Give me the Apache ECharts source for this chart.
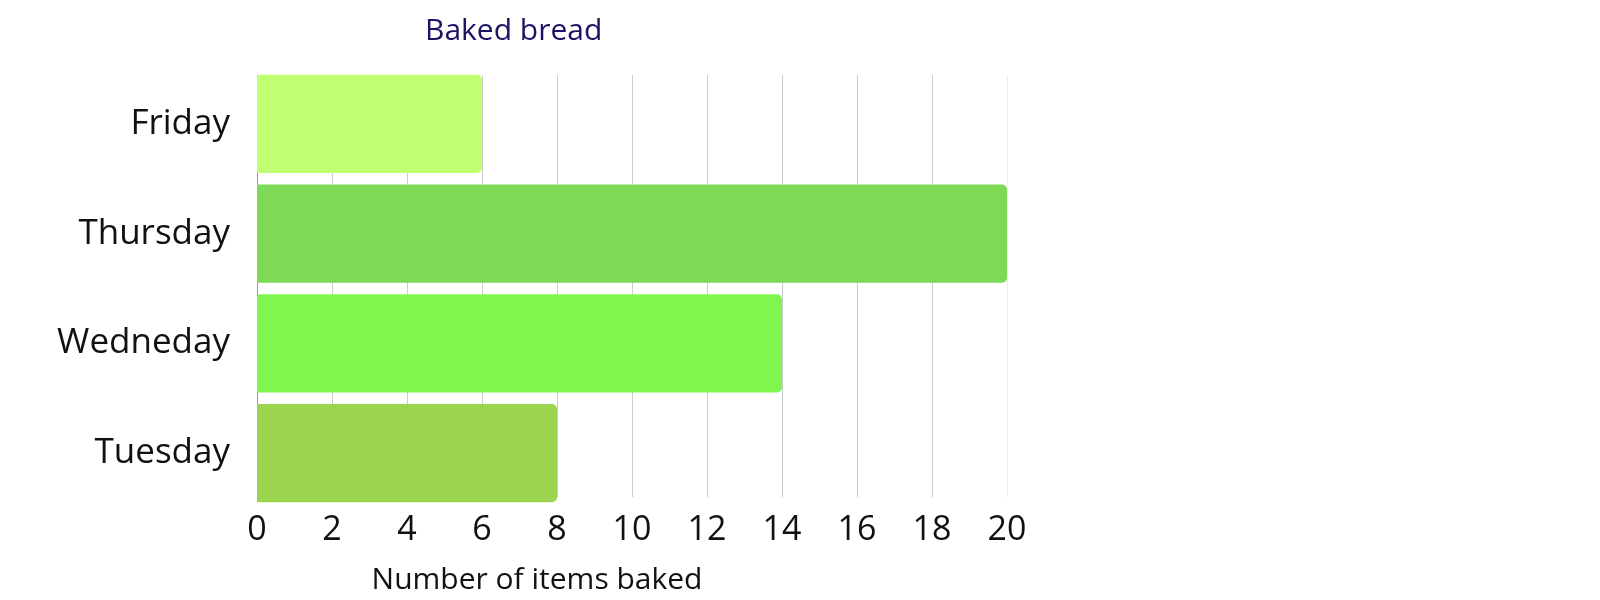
<!DOCTYPE html>
<html>
<head>
<meta charset="utf-8">
<script src="https://cdn.jsdelivr.net/npm/echarts@6/dist/echarts.min.js"></script>
<style>
  html, body { margin: 0; padding: 0; background: #fff; }
  #main { width: 1600px; height: 600px; }
</style>
</head>
<body>
<div id="main"></div>
<script>
// data (bottom to top, as ECharts draws a category y axis)
const days = ['Tuesday', 'Wedneday', 'Thursday', 'Friday']
const baked = [8, 14, 20, 6]
const barColors = ['#9bd54e', '#7ff64d', '#7ed957', '#c1ff72']
const xTicks = [0, 2, 4, 6, 8, 10, 12, 14, 16, 18, 20]

const font = 'Open Sans'
const chartDom = document.getElementById('main')
const myChart = echarts.init(chartDom)

// grid lines get a lighter colour on the last one
let gridColors = xTicks.map((v, i) => (i === xTicks.length - 1 ? '#eeeeee' : '#cccccc'))

const option = {
  animation: false,
  title: {
    text: 'Baked bread',
    left: 420,
    top: 11,
    textStyle: { fontFamily: font, fontSize: 30, fontWeight: 'normal', color: '#1b1464' }
  },
  grid: [
    // grid 0: axis line, split lines, tick labels
    { left: 257, width: 750, top: 75, height: 427 },
    // grid 1: bars (a little taller so the bars reach the ends of the lines)
    { left: 257, width: 750, top: 69, height: 439 }
  ],
  xAxis: [
    {
      gridIndex: 0,
      type: 'value',
      min: 0,
      max: 20,
      interval: 2,
      axisLine: { show: false },
      axisTick: { show: false },
      axisLabel: { fontFamily: font, fontSize: 34, color: '#111', margin: 16 },
      splitLine: { show: true, lineStyle: { color: gridColors, width: 1 } },
      name: 'Number of items baked',
      nameLocation: 'middle',
      nameGap: 68,
      nameTextStyle: { fontFamily: font, fontSize: 30, color: '#111', padding: [0, 190, 0, 0] }
    },
    {
      gridIndex: 1,
      type: 'value',
      min: 0,
      max: 20,
      show: false
    }
  ],
  yAxis: [
    {
      gridIndex: 0,
      type: 'category',
      data: days,
      axisLine: { show: true, lineStyle: { color: '#999', width: 1 } },
      axisTick: { show: false },
      axisLabel: { show: false }
    },
    {
      gridIndex: 1,
      type: 'category',
      data: days,
      axisLine: { show: false },
      axisTick: { show: false },
      axisLabel: { fontFamily: font, fontSize: 35, color: '#111', margin: 27 }
    }
  ],
  series: [
    {
      type: 'bar',
      xAxisIndex: 1,
      yAxisIndex: 1,
      barCategoryGap: '10.7%',
      data: baked.map((v, i) => ({
        value: v,
        itemStyle: { color: barColors[i], borderRadius: [0, 5, 5, 0] }
      }))
    }
  ]
}

option && myChart.setOption(option)
</script>
</body>
</html>
